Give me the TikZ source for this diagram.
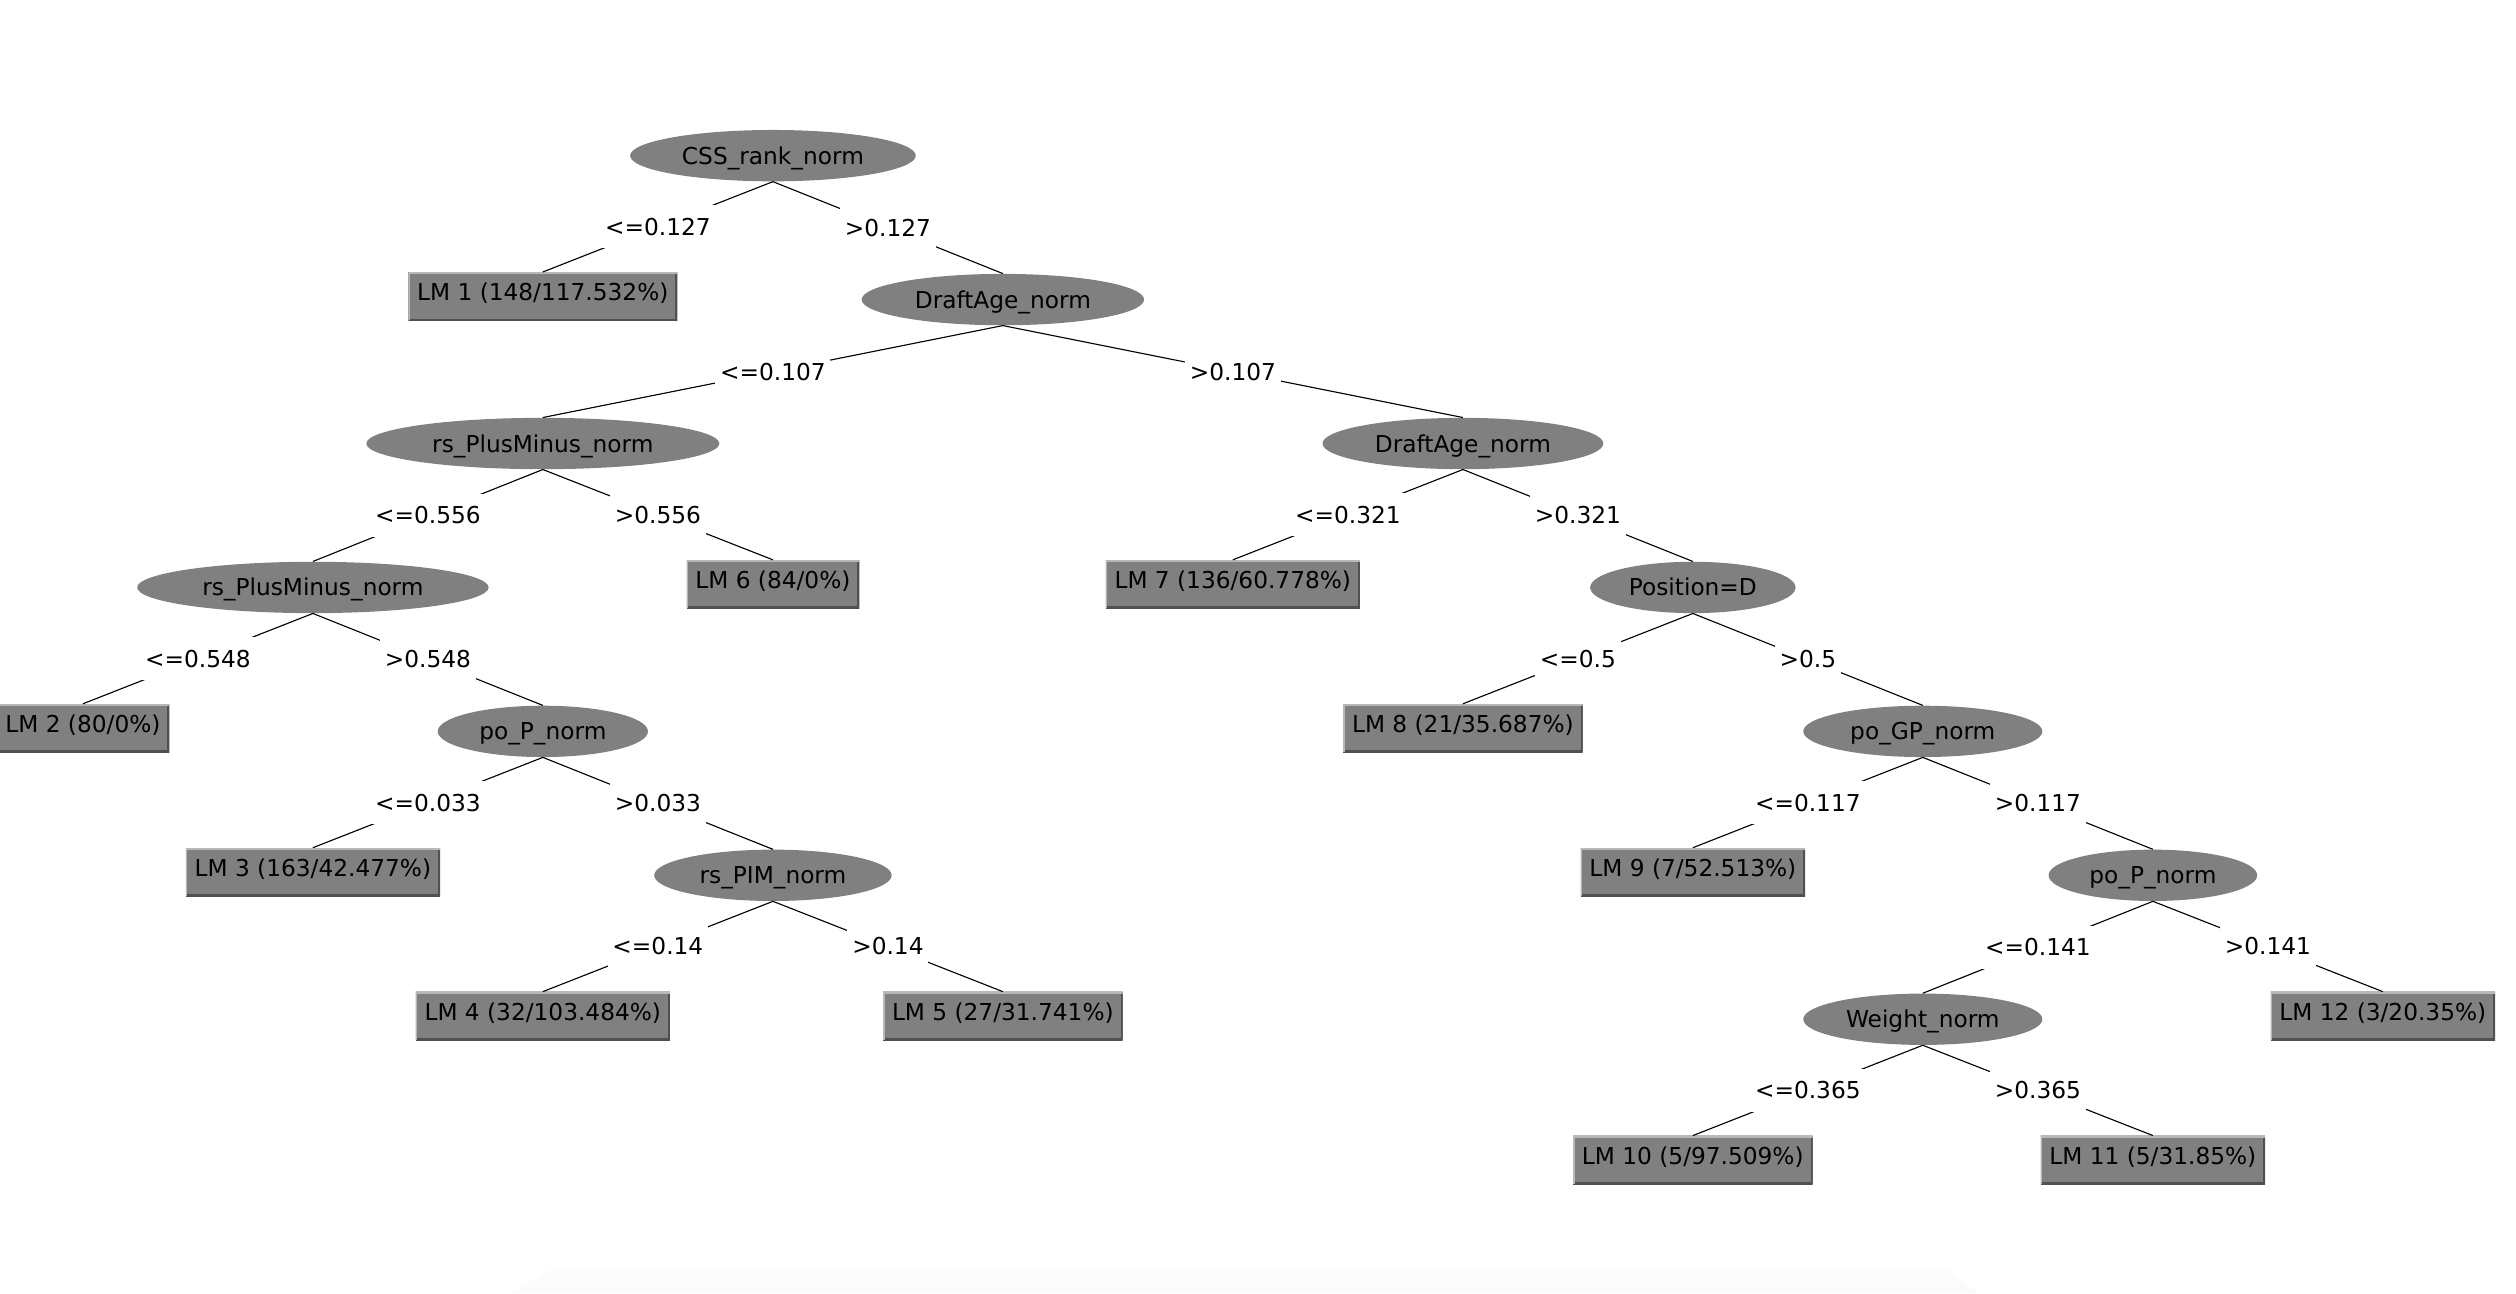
\documentclass[tikz,border=0pt]{standalone}
\usepackage{fontspec}
\setmainfont{DejaVu Sans}
\usetikzlibrary{shapes.geometric}
\definecolor{nodegray}{RGB}{128,128,128}
\definecolor{bevellight}{RGB}{184,184,184}
\definecolor{beveldark}{RGB}{80,80,80}
\definecolor{faintstrip}{RGB}{251,251,251}
\tikzset{
  txt/.style={font=\fontsize{14.5}{17}\selectfont, text=black},
  split/.style={ellipse, fill=nodegray, inner sep=0pt, minimum height=32pt, txt,
    text height=10.6pt, text depth=0pt},
  leaf/.style={rectangle, fill=nodegray, inner xsep=5.5pt, inner ysep=0pt,
    minimum height=30pt, txt, text height=10.6pt, text depth=5pt,
    path picture={
      \draw[beveldark, line width=2.4pt]
        (path picture bounding box.south west) -- (path picture bounding box.south east)
        -- (path picture bounding box.north east);
      \draw[bevellight, line width=2pt]
        (path picture bounding box.south west) -- (path picture bounding box.north west)
        -- (path picture bounding box.north east);
    }},
  cond/.style={fill=white, inner xsep=3pt, inner ysep=0pt, minimum height=27pt, txt,
    text height=10.6pt, text depth=0pt},
  branch/.style={draw=black, line width=0.7pt},
}
\begin{document}
\begin{tikzpicture}[x=1pt, y=-1pt]
\clip (0,0) rectangle (1568,806);
\fill[white] (0,0) rectangle (1568,806);
\fill[faintstrip] (344,791) -- (1213,791) -- (1233,806) -- (317,806) -- cycle;

% split nodes
\node[split, minimum width=178pt] (css)  at (481.7,97)    {CSS\_rank\_norm};
\node[split, minimum width=176pt] (da1)  at (625,186.7)   {DraftAge\_norm};
\node[split, minimum width=220pt] (rpm1) at (338.3,276.4) {rs\_PlusMinus\_norm};
\node[split, minimum width=175pt] (da2)  at (911.7,276.4) {DraftAge\_norm};
\node[split, minimum width=219pt] (rpm2) at (195,366.1)   {rs\_PlusMinus\_norm};
\node[split, minimum width=128pt] (pos)  at (1055,366.1)  {Position=D};
\node[split, minimum width=131pt] (pop1) at (338.3,455.8) {po\_P\_norm};
\node[split, minimum width=149pt] (pogp) at (1198.3,455.8) {po\_GP\_norm};
\node[split, minimum width=148pt] (pim)  at (481.7,545.5) {rs\_PIM\_norm};
\node[split, minimum width=130pt] (pop2) at (1341.7,545.5) {po\_P\_norm};
\node[split, minimum width=149pt] (wt)   at (1198.3,635.2) {Weight\_norm};

% leaves
\node[leaf] (lm1)  at (338.3,184.7)  {LM 1 (148/117.532\%)};
\node[leaf] (lm6)  at (481.7,364.1)  {LM 6 (84/0\%)};
\node[leaf] (lm7)  at (768.3,364.1)  {LM 7 (136/60.778\%)};
\node[leaf] (lm2)  at (51.7,453.8)   {LM 2 (80/0\%)};
\node[leaf] (lm8)  at (911.7,453.8)  {LM 8 (21/35.687\%)};
\node[leaf] (lm3)  at (195,543.5)    {LM 3 (163/42.477\%)};
\node[leaf] (lm9)  at (1055,543.5)   {LM 9 (7/52.513\%)};
\node[leaf] (lm4)  at (338.3,633.2)  {LM 4 (32/103.484\%)};
\node[leaf] (lm5)  at (625,633.2)    {LM 5 (27/31.741\%)};
\node[leaf] (lm12) at (1485,633.2)   {LM 12 (3/20.35\%)};
\node[leaf] (lm10) at (1055,722.9)   {LM 10 (5/97.509\%)};
\node[leaf] (lm11) at (1341.7,722.9) {LM 11 (5/31.85\%)};

% branches
\draw[branch] (css.south)  -- node[cond]{<=0.127} (lm1.north);
\draw[branch] (css.south)  -- node[cond]{>0.127}  (da1.north);
\draw[branch] (da1.south)  -- node[cond]{<=0.107} (rpm1.north);
\draw[branch] (da1.south)  -- node[cond]{>0.107}  (da2.north);
\draw[branch] (rpm1.south) -- node[cond]{<=0.556} (rpm2.north);
\draw[branch] (rpm1.south) -- node[cond]{>0.556}  (lm6.north);
\draw[branch] (da2.south)  -- node[cond]{<=0.321} (lm7.north);
\draw[branch] (da2.south)  -- node[cond]{>0.321}  (pos.north);
\draw[branch] (rpm2.south) -- node[cond]{<=0.548} (lm2.north);
\draw[branch] (rpm2.south) -- node[cond]{>0.548}  (pop1.north);
\draw[branch] (pos.south)  -- node[cond]{<=0.5}   (lm8.north);
\draw[branch] (pos.south)  -- node[cond]{>0.5}    (pogp.north);
\draw[branch] (pop1.south) -- node[cond]{<=0.033} (lm3.north);
\draw[branch] (pop1.south) -- node[cond]{>0.033}  (pim.north);
\draw[branch] (pogp.south) -- node[cond]{<=0.117} (lm9.north);
\draw[branch] (pogp.south) -- node[cond]{>0.117}  (pop2.north);
\draw[branch] (pim.south)  -- node[cond]{<=0.14}  (lm4.north);
\draw[branch] (pim.south)  -- node[cond]{>0.14}   (lm5.north);
\draw[branch] (pop2.south) -- node[cond]{<=0.141} (wt.north);
\draw[branch] (pop2.south) -- node[cond]{>0.141}  (lm12.north);
\draw[branch] (wt.south)   -- node[cond]{<=0.365} (lm10.north);
\draw[branch] (wt.south)   -- node[cond]{>0.365}  (lm11.north);
\end{tikzpicture}
\end{document}
